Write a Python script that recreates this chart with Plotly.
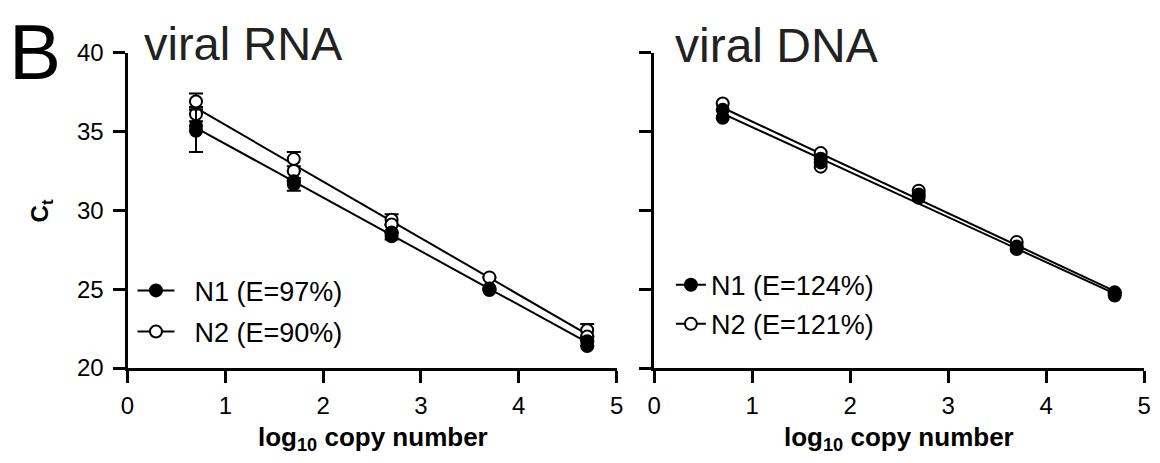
import numpy as np
import plotly.graph_objects as go

# ---------------- data ----------------
x_ticks = [0, 1, 2, 3, 4, 5]
y_ticks = [20, 25, 30, 35, 40]

# viral RNA panel (replicate points, error = SD; nan = no visible bar)
rna_n1_x = [0.7, 0.7, 1.7, 1.7, 2.7, 2.7, 3.7, 3.7, 4.7, 4.7]
rna_n1_y = [35.35, 35.05, 31.85, 31.65, 28.6, 28.35, 25.05, 24.95, 21.7, 21.4]
rna_n1_e = [np.nan, 1.35, np.nan, 0.4, np.nan, 0.2, np.nan, np.nan, np.nan, np.nan]

rna_n2_x = [0.7, 0.7, 1.7, 1.7, 2.7, 2.7, 3.7, 4.7, 4.7]
rna_n2_y = [36.9, 36.1, 33.25, 32.5, 29.4, 29.1, 25.75, 22.4, 22.0]
rna_n2_e = [0.5, 0.45, 0.45, np.nan, 0.35, np.nan, np.nan, 0.4, np.nan]

# viral DNA panel
dna_n1_x = [0.7, 0.7, 1.7, 1.7, 2.7, 2.7, 3.7, 3.7, 4.7, 4.7]
dna_n1_y = [36.37, 35.87, 33.27, 33.04, 31.0, 30.8, 27.7, 27.55, 24.8, 24.6]

dna_n2_x = [0.7, 1.7, 1.7, 2.7, 3.7, 4.7]
dna_n2_y = [36.77, 33.63, 32.77, 31.25, 28.0, 24.75]

# standard-curve fits (slope, intercept)
fit_x = [0.7, 4.7]
rna_n1_fit = (-3.40, 37.61)
rna_n2_fit = (-3.587, 39.0)
dna_n1_fit = (-2.854, 38.13)
dna_n2_fit = (-2.907, 38.54)

rna_labels = ["N1 (E=97%)", "N2 (E=90%)"]
dna_labels = ["N1 (E=124%)", "N2 (E=121%)"]

# ---------------- layout helpers ----------------
W, H = 1160, 463
FONT = "Liberation Sans, Arial, Helvetica, sans-serif"


def px(x):
    return x / W


def py(y):
    return 1 - y / H


fig = go.Figure()

filled = dict(symbol="circle", size=12, color="black", line=dict(color="black", width=2))
hollow = dict(symbol="circle", size=12, color="white", line=dict(color="black", width=2))
errstyle = dict(type="data", visible=True, color="black", thickness=2, width=7)


def fit_line(fit, xa, ya):
    m, b = fit
    xs = np.array(fit_x)
    fig.add_trace(go.Scatter(x=xs, y=m * xs + b, mode="lines", xaxis=xa, yaxis=ya,
                             line=dict(color="black", width=2), showlegend=False,
                             hoverinfo="skip"))


# regression lines (under markers)
fit_line(rna_n2_fit, "x", "y")
fit_line(rna_n1_fit, "x", "y")
fit_line(dna_n2_fit, "x2", "y2")
fit_line(dna_n1_fit, "x2", "y2")

# RNA points
fig.add_trace(go.Scatter(x=rna_n2_x, y=rna_n2_y, mode="markers", marker=hollow,
                         error_y=dict(array=rna_n2_e, **errstyle), xaxis="x", yaxis="y",
                         showlegend=False))
fig.add_trace(go.Scatter(x=rna_n1_x, y=rna_n1_y, mode="markers", marker=filled,
                         error_y=dict(array=rna_n1_e, **errstyle), xaxis="x", yaxis="y",
                         showlegend=False))
# DNA points
fig.add_trace(go.Scatter(x=dna_n2_x, y=dna_n2_y, mode="markers", marker=hollow,
                         xaxis="x2", yaxis="y2", showlegend=False))
fig.add_trace(go.Scatter(x=dna_n1_x, y=dna_n1_y, mode="markers", marker=filled,
                         xaxis="x2", yaxis="y2", showlegend=False))

# legend entries
for lab, mk, grp in [(rna_labels[0], filled, "a"), (rna_labels[1], hollow, "b")]:
    fig.add_trace(go.Scatter(x=[None], y=[None], mode="lines+markers", marker=mk,
                             line=dict(color="black", width=2), name="\u00a0\u00a0" + lab,
                             legend="legend", legendgroup=grp, xaxis="x", yaxis="y"))
for lab, mk, grp in [(dna_labels[0], filled, "c"), (dna_labels[1], hollow, "d")]:
    fig.add_trace(go.Scatter(x=[None], y=[None], mode="lines+markers", marker=mk,
                             line=dict(color="black", width=2), name=lab,
                             legend="legend2", legendgroup=grp, xaxis="x2", yaxis="y2"))

ydom = [py(376), py(41)]
axis_common = dict(showgrid=False, zeroline=False, showline=True, linecolor="black",
                   linewidth=3, ticks="outside", ticklen=12, tickwidth=3, tickcolor="black",
                   tickfont=dict(family=FONT, size=24, color="black"), mirror=False)

fig.update_layout(
    width=W, height=H, margin=dict(l=0, r=0, t=0, b=0),
    paper_bgcolor="white", plot_bgcolor="white",
    font=dict(family=FONT, color="black"),
    xaxis=dict(domain=[px(122), px(617)], range=[0, 5], tickvals=x_ticks, anchor="y",
               ticklabelstandoff=2, **axis_common),
    yaxis=dict(domain=ydom, range=[20, 40], tickvals=y_ticks, anchor="x",
               ticklabelstandoff=4, **axis_common),
    xaxis2=dict(domain=[px(655), px(1151)], range=[0, 5], tickvals=x_ticks, anchor="y2",
                ticklabelstandoff=2, **axis_common),
    yaxis2=dict(domain=ydom, range=[20, 40], tickvals=y_ticks, anchor="x2",
                showticklabels=False, **axis_common),
    legend=dict(x=px(127), y=py(268), xanchor="left", yanchor="top",
                font=dict(family=FONT, size=27, color="black"), bgcolor="rgba(0,0,0,0)",
                tracegroupgap=3, itemwidth=37, traceorder="grouped"),
    legend2=dict(x=px(672), y=py(262), xanchor="left", yanchor="top",
                 font=dict(family=FONT, size=27, color="black"), bgcolor="rgba(0,0,0,0)",
                 tracegroupgap=1, itemwidth=30, traceorder="grouped"),
    showlegend=True,
)

ann = []
ann.append(dict(text="B", x=px(0), y=py(40), xref="paper", yref="paper", xanchor="left",
                yanchor="middle", showarrow=False, font=dict(family=FONT, size=78, color="black")))
ann.append(dict(text="viral RNA", x=px(137), y=py(31), xref="paper", yref="paper",
                xanchor="left", yanchor="middle", showarrow=False,
                font=dict(family=FONT, size=47, color="#222")))
ann.append(dict(text="viral DNA", x=px(674), y=py(33), xref="paper", yref="paper",
                xanchor="left", yanchor="middle", showarrow=False,
                font=dict(family=FONT, size=48, color="#222")))
ann.append(dict(text="<b>C<sub>t</sub></b>", x=px(35), y=py(209), xref="paper", yref="paper",
                xanchor="center", yanchor="middle", textangle=-90, showarrow=False,
                font=dict(family=FONT, size=24, color="black")))
for cx in [370, 903]:
    ann.append(dict(text="<b>log<sub>10</sub> copy number</b>", x=px(cx), y=py(451),
                    xref="paper", yref="paper", xanchor="center", yanchor="middle",
                    showarrow=False, font=dict(family=FONT, size=26, color="black")))
fig.update_layout(annotations=ann)

fig.write_html(
    "out.html",
    config={"displayModeBar": False},
    post_script="document.body.style.margin='0';document.body.style.overflow='hidden';",
)
